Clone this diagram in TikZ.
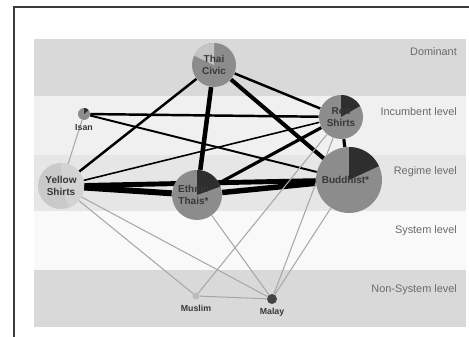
\documentclass[tikz,border=0pt]{standalone}
\usepackage{fontspec}
\setsansfont{Liberation Sans}
\usetikzlibrary{positioning}
\definecolor{BandDark}{HTML}{D9D9D9}
\definecolor{BandLight}{HTML}{F0F0F0}
\definecolor{BandMid}{HTML}{E6E6E6}
\definecolor{BandPale}{HTML}{F9F9F9}
\definecolor{PieMid}{HTML}{8C8C8C}
\definecolor{PieDark}{HTML}{2E2E2E}
\definecolor{PieLight}{HTML}{C4C4C4}
\definecolor{PieYellow}{HTML}{C9C9C9}
\definecolor{PieYellowHi}{HTML}{D3D3D3}
\definecolor{MuslimGrey}{HTML}{BBBBBB}
\definecolor{MalayGrey}{HTML}{444444}
\definecolor{TieGrey}{HTML}{A8A8A8}
\definecolor{FrameGrey}{HTML}{3C3C3C}
\definecolor{LevelText}{HTML}{6B6B6B}
\definecolor{NameText}{HTML}{383838}
\pgfdeclarelayer{under}
\pgfsetlayers{under,main}
\begin{document}
\begin{tikzpicture}[x=0.02cm,y=0.02cm,font=\sffamily,level/.style={anchor=north east,text=LevelText,font=\sffamily\fontsize{6.2}{7}\selectfont},actor/.style={circle,inner sep=0pt,draw=none},tie/.style={draw=black},weak/.style={draw=TieGrey,line width=0.6pt},who/.style={text=NameText,font=\sffamily\bfseries\fontsize{5.7}{6.6}\selectfont,align=center},tag/.style={text=NameText,font=\sffamily\bfseries\fontsize{5}{6}\selectfont,inner sep=1pt}]
\useasboundingbox (0,0) rectangle (469,337);
% canvas and level bands
\begin{pgfonlayer}{under}
\fill[white] (0,0) rectangle (469,337);
\foreach \lo/\hi/\col in {241/298/BandDark,182/241/BandLight,126/182/BandMid,67/126/BandPale,10/67/BandDark}{\fill[\col] (34,\lo) rectangle (466,\hi);}
\end{pgfonlayer}
\draw[draw=FrameGrey,line width=1.1pt] (14,0)--(14,330)--(469,330);
\foreach \y/\txt in {296/Dominant,236/Incumbent level,177/Regime level,118/System level,59/Non-System level}{\node[level] at (463,\y) {\txt};}
% actors as pies
\foreach \n/\x/\y/\r/\base/\part/\from/\to in {civic/214/272/22/PieMid/PieLight/90/155,red/341/220/22/PieMid/PieDark/90/30,isan/84/223/6/PieMid/PieDark/90/40,yellow/61/151/23/PieYellow/PieYellowHi/90/-70,ethnic/197/142/25/PieMid/PieDark/90/20,buddhist/349/157/33/PieMid/PieDark/90/25,muslim/196/41/3.5/MuslimGrey/MuslimGrey/90/90,malay/272/38/5/MalayGrey/MalayGrey/90/90}{\node[actor,fill=\base,minimum size={2*\r*0.02cm}] (\n) at (\x,\y) {};\fill[\part] (\n.center) -- ++(\from:{\r*0.02cm}) arc[start angle=\from,end angle=\to,radius={\r*0.02cm}] -- cycle;}
\node[who] at (civic) {Thai\\Civic};
\node[who] at (red) {Red\\Shirts};
\node[who] at (yellow) {Yellow\\Shirts};
\node[who] at ([xshift=-2]ethnic.center) {Ethnic\\Thais*};
\node[who] at ([xshift=-2]buddhist.center) {Buddhist*};
\node[tag,below=1pt of isan] {Isan};
\node[tag,below=2pt of muslim] {Muslim};
\node[tag,below=1pt of malay] {Malay};
% ties between actors
\begin{pgfonlayer}{under}
\foreach \a/\b/\w in {civic/yellow/1.4,civic/ethnic/2.6,civic/buddhist/2.3,civic/red/1.4,isan/red/1.4,isan/buddhist/1.1,yellow/red/0.9,yellow/ethnic/3.4,yellow/buddhist/2.8,ethnic/red/1.8,ethnic/buddhist/3.1,red/buddhist/1.8}{\draw[tie,line width=\w pt] (\a)--(\b);}
\foreach \a/\b in {isan/yellow,yellow/muslim,yellow/malay,ethnic/malay,red/muslim,red/malay,buddhist/malay,muslim/malay}{\draw[weak] (\a)--(\b);}
\end{pgfonlayer}
\end{tikzpicture}
\end{document}
